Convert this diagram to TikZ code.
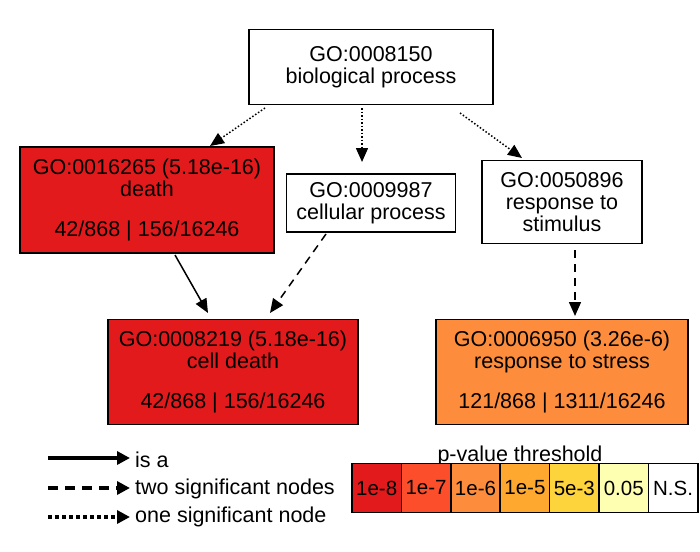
\documentclass[tikz,border=0pt]{standalone}
\usepackage{fontspec}
\setmainfont{Liberation Sans}
\usetikzlibrary{arrows.meta}
\definecolor{c1}{HTML}{E31A1C}\definecolor{c2}{HTML}{FC4E2A}\definecolor{c3}{HTML}{FD8D3C}
\definecolor{c4}{HTML}{FEA82F}\definecolor{c5}{HTML}{FED43C}\definecolor{c6}{HTML}{FFFFB2}
\begin{document}
\begin{tikzpicture}[x=1pt,y=-1pt,
 box/.style={draw,line width=1.2pt,align=center,font=\fontsize{21.5}{22}\selectfont,inner sep=2pt},
 ar/.style={line width=1.5pt,-{Triangle[length=14pt,width=12pt]}},
 dt/.style={ar,dotted},
 ds/.style={ar,dash pattern=on 8pt off 6pt}]
\useasboundingbox (0,0) rectangle (700,551);
\node[box,minimum width=244pt,minimum height=75pt] (bp) at (371,67) {GO:0008150\\biological process};
\node[box,fill=c1,minimum width=254pt,minimum height=106pt] (de) at (147,200) {GO:0016265 (5.18e-16)\\death\\[18pt]42/868 | 156/16246};
\node[box,minimum width=169pt,minimum height=58pt] (cp) at (371,203) {GO:0009987\\cellular process};
\node[box,minimum width=160pt,minimum height=83pt] (rs) at (562,202) {GO:0050896\\response to\\stimulus};
\node[box,fill=c1,minimum width=250pt,minimum height=105pt] (cd) at (233,372) {GO:0008219 (5.18e-16)\\cell death\\[18pt]42/868 | 156/16246};
\node[box,fill=c3,minimum width=252pt,minimum height=105pt] (st) at (562,372) {GO:0006950 (3.26e-6)\\response to stress\\[18pt]121/868 | 1311/16246};
\coordinate (a1) at (265,108); \coordinate (b1) at (210,146);
\draw[dt] (a1) -- (b1);
\coordinate (a2) at (362,108); \coordinate (b2) at (362,162);
\draw[dt] (a2) -- (b2);
\coordinate (a3) at (460,113); \coordinate (b3) at (522,158);
\draw[dt] (a3) -- (b3);
\coordinate (a4) at (175,255); \coordinate (b4) at (208,313);
\draw[ar] (a4) -- (b4);
\coordinate (a5) at (326,234); \coordinate (b5) at (270,313);
\draw[ds] (a5) -- (b5);
\coordinate (a6) at (575,250); \coordinate (b6) at (575,316);
\draw[ds] (a6) -- (b6);
% legend
\coordinate (l1) at (48,458); \coordinate (m1) at (130,458);
\coordinate (l2) at (48,488); \coordinate (m2) at (130,488);
\coordinate (l3) at (48,517); \coordinate (m3) at (130,517);
\tikzset{lg/.style={line width=4.5pt,-{Triangle[length=13pt,width=13pt]}}}
\draw[lg] (l1) -- (m1);
\draw[lg,dash pattern=on 10pt off 7pt] (l2) -- (m2);
\draw[lg,dash pattern=on 4pt off 3pt] (l3) -- (m3);
\tikzset{lt/.style={anchor=west,font=\fontsize{21.5}{22}\selectfont,inner sep=1pt}}
\node[lt] (t1) at (134,460) {is a};
\node[lt] (t2) at (134,489) {two significant nodes};
\node[lt] (t3) at (134,517) {one significant node};
\node[font=\fontsize{21.5}{22}\selectfont] (pt) at (520,456) {p-value threshold};
\foreach \c/\t [count=\i] in {c1/1e-8,c2/1e-7,c3/1e-6,c4/1e-5,c5/5e-3,c6/0.05,white/N.S.}{
 \node[draw,line width=1.5pt,fill=\c,minimum width=49.4pt,minimum height=49pt,inner sep=0pt,font=\fontsize{20.5}{21}\selectfont] (s\i) at ({352+49.4*(\i-0.5)},488) {\t};
}
\end{tikzpicture}
\end{document}
